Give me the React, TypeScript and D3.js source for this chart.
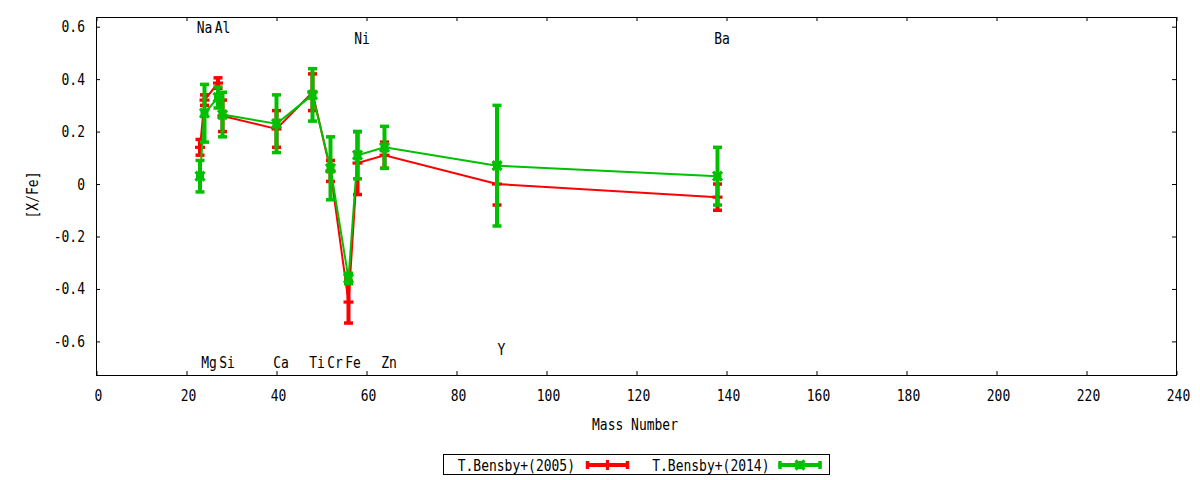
import * as d3 from "d3";
import { useEffect, useRef } from "react";

// mass numbers of the elements
const elements = ["Na", "Mg", "Al", "Si", "Ca", "Ti", "Cr", "Fe", "Ni", "Zn", "Y", "Ba"];
const massNumbers = [23, 24, 27, 28, 40, 48, 52, 56, 58, 64, 89, 138];
// where the element names sit on the [X/Fe] axis
const labelLevels = [0.595, -0.68, 0.595, -0.68, -0.68, -0.68, -0.68, -0.68, 0.555, -0.68, -0.63, 0.555];

// T.Bensby+(2005)
const bensby2005 = [0.14, 0.32, 0.385, 0.26, 0.21, 0.35, 0.05, -0.45, 0.08, 0.11, 0.0, -0.05];
const bensby2005Err = [0.03, 0.02, 0.02, 0.06, 0.07, 0.07, 0.04, 0.08, 0.12, 0.05, 0.08, 0.05];
// T.Bensby+(2014)
const bensby2014 = [0.03, 0.27, 0.33, 0.265, 0.23, 0.34, 0.06, -0.36, 0.11, 0.14, 0.07, 0.03];
const bensby2014Err = [0.06, 0.11, 0.04, 0.085, 0.11, 0.1, 0.12, 0.02, 0.09, 0.08, 0.23, 0.11];

const xTicks = [0, 20, 40, 60, 80, 100, 120, 140, 160, 180, 200, 220, 240];
const yTicks = [-0.6, -0.4, -0.2, 0, 0.2, 0.4, 0.6];
const seriesNames = ["T.Bensby+(2005)", "T.Bensby+(2014)"];

export default function App() {
  const svgRef = useRef<SVGSVGElement | null>(null);
  const width = 1200;
  const height = 480;

  useEffect(() => {
    if (!svgRef.current) return;
    const svg = d3.select(svgRef.current);
    svg.selectAll("*").remove();

    const left = 96.5;
    const right = 1176.5;
    const top = 17.5;
    const bottom = 375.5;

    const x = d3.scaleLinear().domain([0, 240]).range([left, right]);
    const y = d3.scaleLinear().domain([-0.73, 0.635]).range([bottom, top]);

    const font = (sel: any) =>
      sel.attr("font-family", "'DejaVu Sans Mono', monospace").attr("font-size", 13).attr("fill", "#000");

    // gnuplot text is tall and narrow
    const label = (tx: number, ty: number, text: string, anchor: string, rot = 0) =>
      svg
        .append("text")
        .attr("transform", `translate(${tx},${ty}) rotate(${rot}) scale(1,1.2)`)
        .attr("text-anchor", anchor)
        .call(font)
        .text(text);

    // border
    svg
      .append("rect")
      .attr("x", left)
      .attr("y", top)
      .attr("width", right - left)
      .attr("height", bottom - top)
      .attr("fill", "none")
      .attr("stroke", "#000")
      .attr("stroke-width", 1);

    // inward ticks on all four sides
    const noLabel = () => "";
    const axes = [
      { ax: d3.axisBottom(x).tickValues(xTicks), t: `translate(0,${bottom - 0.5})` },
      { ax: d3.axisTop(x).tickValues(xTicks), t: `translate(0,${top - 0.5})` },
      { ax: d3.axisLeft(y).tickValues(yTicks), t: `translate(${left - 0.5},0)` },
      { ax: d3.axisRight(y).tickValues(yTicks), t: `translate(${right - 0.5},0)` },
    ];
    axes.forEach(({ ax, t }) => {
      const g = svg
        .append("g")
        .attr("transform", t)
        .call(ax.tickSize(-4).tickFormat(noLabel as any) as any);
      g.select(".domain").remove();
    });

    xTicks.forEach((v) => label(x(v) + 2, 400.5, String(v), "middle"));
    yTicks.forEach((v) => label(85, y(v) + 5.5, v === 0 ? "0" : v.toFixed(1), "end"));

    label(635, 430, "Mass Number", "middle");
    label(37.5, 195, "[X/Fe]", "middle", -90);

    // element names, placed one mass unit to the right
    elements.forEach((el, i) => label(x(massNumbers[i] + 1), y(labelLevels[i]) + 5.5, el, "middle"));

    const series = [
      { values: bensby2005, errs: bensby2005Err, color: "#ff0000", marker: "plus" },
      { values: bensby2014, errs: bensby2014Err, color: "#00c000", marker: "cross" },
    ];

    const line = d3
      .line<number>()
      .x((_, i) => x(massNumbers[i]))
      .y((d) => y(d));

    const drawMarker = (g: any, cx: number, cy: number, kind: string, color: string) => {
      if (kind === "plus") {
        g.append("line").attr("x1", cx - 5).attr("x2", cx + 5).attr("y1", cy).attr("y2", cy);
        g.append("line").attr("x1", cx).attr("x2", cx).attr("y1", cy - 5).attr("y2", cy + 5);
      } else {
        g.append("line").attr("x1", cx - 4.5).attr("x2", cx + 4.5).attr("y1", cy - 4.5).attr("y2", cy + 4.5);
        g.append("line").attr("x1", cx - 4.5).attr("x2", cx + 4.5).attr("y1", cy + 4.5).attr("y2", cy - 4.5);
        g.append("rect")
          .attr("x", cx - 4)
          .attr("y", cy - 4)
          .attr("width", 8)
          .attr("height", 8)
          .attr("fill", color)
          .attr("stroke", "none");
      }
    };

    series.forEach((s) => {
      const g = svg.append("g").attr("stroke", s.color).attr("fill", "none");
      g.append("path").datum(s.values).attr("d", line).attr("stroke-width", 2);

      s.values.forEach((v, i) => {
        const cx = x(massNumbers[i]);
        const y1 = y(v + s.errs[i]);
        const y2 = y(v - s.errs[i]);
        g.append("line").attr("x1", cx).attr("x2", cx).attr("y1", y1).attr("y2", y2).attr("stroke-width", 4);
        [y1, y2].forEach((cy) =>
          g
            .append("line")
            .attr("x1", cx - 4.5)
            .attr("x2", cx + 4.5)
            .attr("y1", cy)
            .attr("y2", cy)
            .attr("stroke-width", 3.5),
        );
        const m = g.append("g").attr("stroke-width", 3.2);
        drawMarker(m, cx, y(v), s.marker, s.color);
      });
    });

    // key
    svg
      .append("rect")
      .attr("x", 443.5)
      .attr("y", 454.5)
      .attr("width", 386)
      .attr("height", 20)
      .attr("fill", "none")
      .attr("stroke", "#000")
      .attr("stroke-width", 1);

    const keyText = [575, 769.5];
    const keySample = [
      [586, 629],
      [778.5, 821.5],
    ];
    const keyY = 465;
    series.forEach((s, i) => {
      label(keyText[i], keyY + 5.5, seriesNames[i], "end");
      const [a, b] = keySample[i];
      const g = svg.append("g").attr("stroke", s.color).attr("fill", "none");
      g.append("line").attr("x1", a).attr("x2", b).attr("y1", keyY).attr("y2", keyY).attr("stroke-width", 4);
      [a + 1.5, b - 1.5].forEach((cx) =>
        g
          .append("line")
          .attr("x1", cx)
          .attr("x2", cx)
          .attr("y1", keyY - 4)
          .attr("y2", keyY + 4)
          .attr("stroke-width", 3.5),
      );
      const m = g.append("g").attr("stroke-width", 3.2);
      drawMarker(m, (a + b) / 2, keyY, s.marker, s.color);
    });
  }, []);

  return (
    <svg
      ref={svgRef}
      width={width}
      height={height}
      style={{ position: "absolute", left: 0, top: 0, background: "#fff" }}
    />
  );
}
